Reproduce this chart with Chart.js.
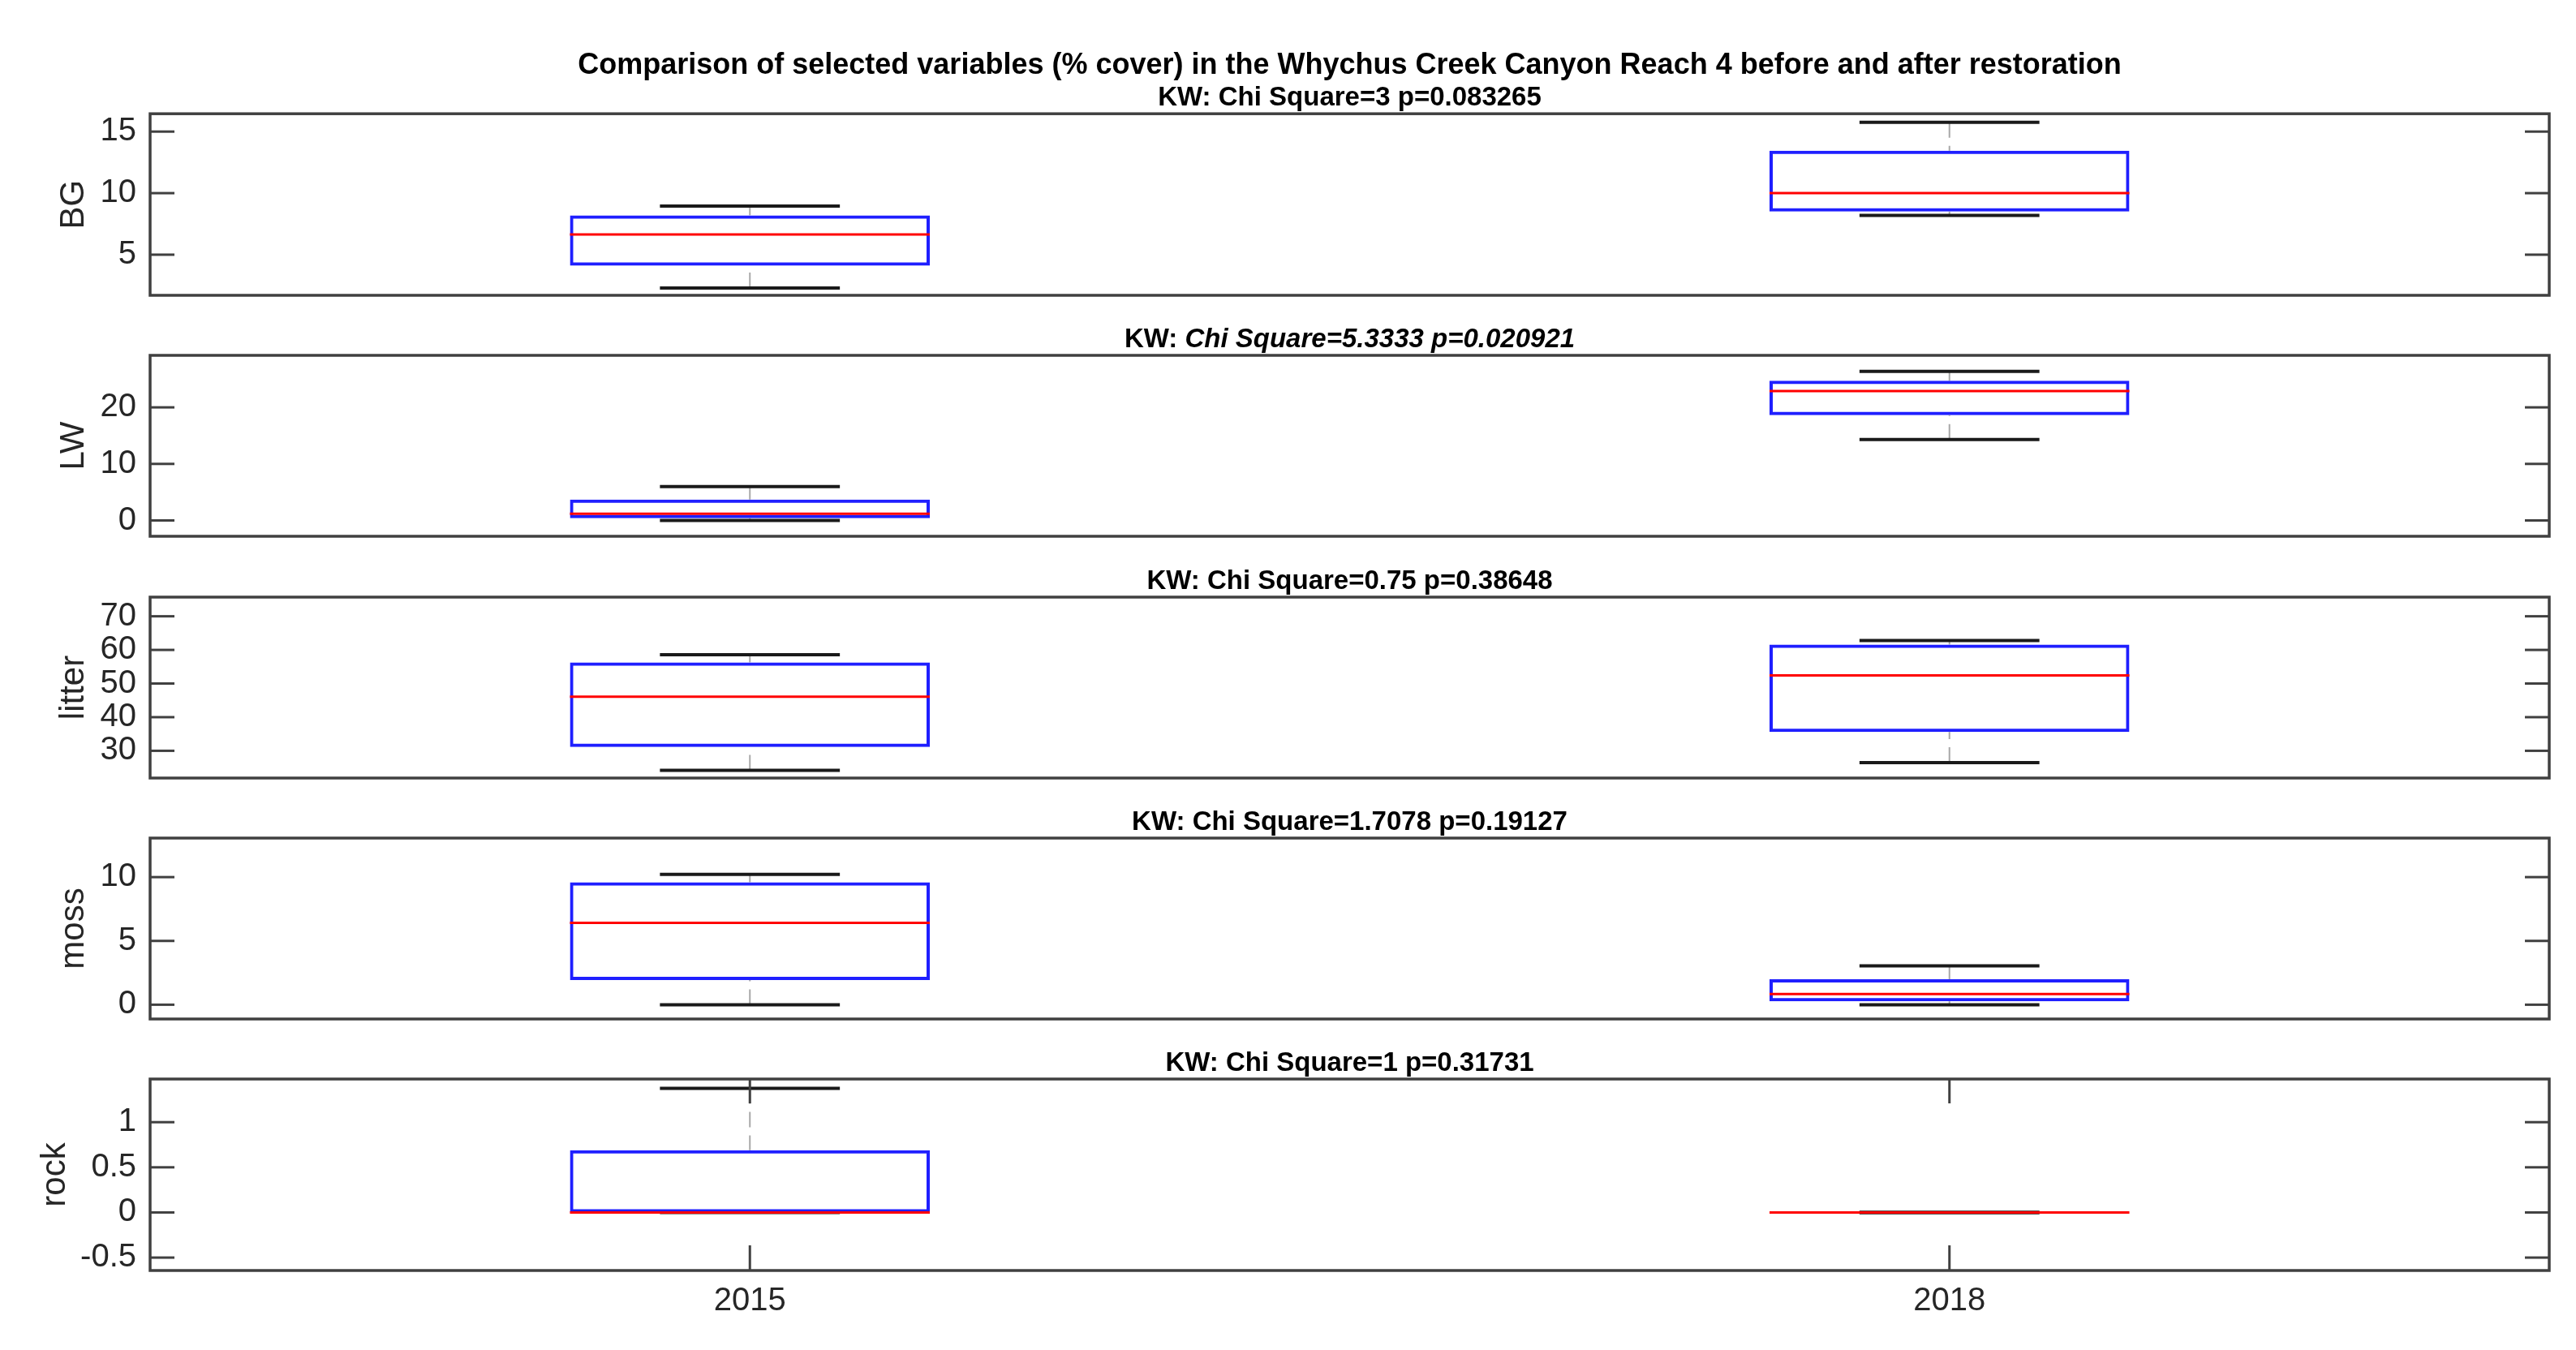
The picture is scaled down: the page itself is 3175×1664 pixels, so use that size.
<!DOCTYPE html>
<html>
<head>
<meta charset="utf-8">
<script src="https://cdn.jsdelivr.net/npm/chart.js@4.4.0/dist/chart.umd.min.js"></script>
<style>
  html, body { margin: 0; padding: 0; background: #fff; }
  #wrap { position: relative; width: 3175px; height: 1664px; overflow: hidden; background: #fff; }
  #wrap canvas { position: absolute; left: 0; }
</style>
</head>
<body>
<div id="wrap">
  <canvas id="p0"></canvas>
  <canvas id="p1"></canvas>
  <canvas id="p2"></canvas>
  <canvas id="p3"></canvas>
  <canvas id="p4"></canvas>
</div>
<script>
// data
const years = ['2015', '2018'];
const mainTitle = 'Comparison of selected variables (% cover) in the Whychus Creek Canyon Reach 4 before and after restoration';

const bgLow = [2.3, 8.2], bgQ1 = [4.1, 8.5], bgMed = [6.65, 10.0], bgQ3 = [8.2, 13.45], bgHigh = [8.95, 15.75];
const lwLow = [0, 14.3], lwQ1 = [0.4, 18.6], lwMed = [1.2, 22.9], lwQ3 = [3.7, 24.7], lwHigh = [6.0, 26.35];
const litterLow = [24.2, 26.5], litterQ1 = [31.1, 35.6], litterMed = [46.1, 52.4], litterQ3 = [56.3, 61.6], litterHigh = [58.6, 62.8];
const mossLow = [0, 0], mossQ1 = [1.93, 0.27], mossMed = [6.42, 0.84], mossQ3 = [9.6, 2.0], mossHigh = [10.22, 3.04];
const rockLow = [0, 0], rockQ1 = [0, 0], rockMed = [0, 0], rockQ3 = [0.69, 0], rockHigh = [1.375, 0];

const bgTicks = [5, 10, 15], bgLimits = [1.7, 16.45];
const lwTicks = [0, 10, 20], lwLimits = [-2.8, 29.2];
const litterTicks = [30, 40, 50, 60, 70], litterLimits = [21.9, 75.7];
const mossTicks = [0, 5, 10], mossLimits = [-1.12, 13.06];
const rockTicks = [-0.5, 0, 0.5, 1], rockLimits = [-0.643, 1.478];

const kwStats = ['Chi Square=3 p=0.083265', 'Chi Square=5.3333 p=0.020921', 'Chi Square=0.75 p=0.38648',
                 'Chi Square=1.7078 p=0.19127', 'Chi Square=1 p=0.31731'];
const kwItalic = [false, true, false, false, false];

const panels = [
  { name: 'BG', low: bgLow, q1: bgQ1, med: bgMed, q3: bgQ3, high: bgHigh, ticks: bgTicks, lim: bgLimits },
  { name: 'LW', low: lwLow, q1: lwQ1, med: lwMed, q3: lwQ3, high: lwHigh, ticks: lwTicks, lim: lwLimits },
  { name: 'litter', low: litterLow, q1: litterQ1, med: litterMed, q3: litterQ3, high: litterHigh, ticks: litterTicks, lim: litterLimits },
  { name: 'moss', low: mossLow, q1: mossQ1, med: mossMed, q3: mossQ3, high: mossHigh, ticks: mossTicks, lim: mossLimits },
  { name: 'rock', low: rockLow, q1: rockQ1, med: rockMed, q3: rockQ3, high: rockHigh, ticks: rockTicks, lim: rockLimits }
];

// layout
const FONT = "'Liberation Sans', Arial, Helvetica, sans-serif";
const plotTops = [140, 438, 736, 1033, 1330];
const plotHeights = [235, 235, 235, 235, 237];
const yTitlePad = [66, 66, 66, 66, 43];
Chart.defaults.font.family = FONT;

function seg(ctx, x1, y1, x2, y2) {
  ctx.beginPath(); ctx.moveTo(x1, y1); ctx.lineTo(x2, y2); ctx.stroke();
}

const boxplot = {
  id: 'boxplot',
  beforeDatasetsDraw(chart, args, o) {
    const {ctx} = chart, x = chart.scales.x, y = chart.scales.y;
    const bars = chart.getDatasetMeta(0).data;
    ctx.save();
    bars.forEach((bar, i) => {
      const cx = x.getPixelForValue(i), half = bar.width / 4;
      ctx.strokeStyle = '#a8a8a8'; ctx.lineWidth = 2; ctx.setLineDash([19, 10]);
      seg(ctx, cx, y.getPixelForValue(o.high[i]), cx, y.getPixelForValue(o.q3[i]));
      seg(ctx, cx, y.getPixelForValue(o.low[i]), cx, y.getPixelForValue(o.q1[i]));
      ctx.setLineDash([]);
      ctx.strokeStyle = '#1a1a1a'; ctx.lineWidth = 4;
      seg(ctx, cx - half, y.getPixelForValue(o.high[i]), cx + half, y.getPixelForValue(o.high[i]));
      seg(ctx, cx - half, y.getPixelForValue(o.low[i]), cx + half, y.getPixelForValue(o.low[i]));
    });
    ctx.restore();
  },
  afterDatasetsDraw(chart, args, o) {
    const {ctx, chartArea: a} = chart, x = chart.scales.x, y = chart.scales.y;
    const bars = chart.getDatasetMeta(0).data;
    ctx.save();
    // medians
    ctx.strokeStyle = '#ff0000'; ctx.lineWidth = 3;
    bars.forEach((bar, i) => {
      const py = y.getPixelForValue(o.med[i]);
      seg(ctx, bar.x - bar.width / 2, py, bar.x + bar.width / 2, py);
    });
    // ticks inside the box
    ctx.strokeStyle = '#404040'; ctx.lineWidth = 3;
    y.ticks.forEach(t => {
      const py = y.getPixelForValue(t.value);
      seg(ctx, a.left, py, a.left + 30, py);
      seg(ctx, a.right, py, a.right - 30, py);
    });
    if (o.xTicks) {
      years.forEach((_, i) => {
        const px = x.getPixelForValue(i);
        seg(ctx, px, a.bottom, px, a.bottom - 31);
        seg(ctx, px, a.top, px, a.top + 30);
      });
    }
    // frame
    ctx.strokeStyle = '#404040'; ctx.lineWidth = 3.5;
    ctx.strokeRect(a.left, a.top, a.right - a.left, a.bottom - a.top);
    // subtitle
    const parts = [['KW: ', 'bold 33px ' + FONT], [o.kw, (o.italic ? 'italic ' : '') + 'bold 33px ' + FONT]];
    let total = 0;
    parts.forEach(p => { ctx.font = p[1]; total += ctx.measureText(p[0]).width; });
    let tx = (a.left + a.right) / 2 - total / 2;
    ctx.fillStyle = '#000'; ctx.textBaseline = 'middle'; ctx.textAlign = 'left';
    parts.forEach(p => { ctx.font = p[1]; ctx.fillText(p[0], tx, a.top - 19); tx += ctx.measureText(p[0]).width; });
    ctx.restore();
  }
};

panels.forEach((p, k) => {
  const first = k === 0, last = k === panels.length - 1;
  const topSpace = first ? 83.2 : 40;
  const bottomSpace = last ? 80 : 30;
  const H = Math.round(topSpace + plotHeights[k] + bottomSpace);
  const canvas = document.getElementById('p' + k);
  canvas.width = 3175; canvas.height = H;
  canvas.style.width = '3175px'; canvas.style.height = H + 'px';

  const chart = new Chart(canvas, {
    type: 'bar',
    data: {
      labels: years,
      datasets: [{
        data: years.map((_, j) => [p.q1[j], p.q3[j]]),
        backgroundColor: 'rgba(0,0,0,0)',
        borderColor: '#1f1fff',
        borderWidth: 4,
        borderSkipped: false,
        barPercentage: 0.3,
        categoryPercentage: 1
      }]
    },
    options: {
      responsive: false,
      animation: false,
      devicePixelRatio: 1,
      events: [],
      layout: { padding: { left: 0, right: 33, top: first ? 0 : 40, bottom: last ? 0 : 30 } },
      plugins: {
        legend: { display: false },
        tooltip: { enabled: false },
        title: {
          display: first,
          text: mainTitle,
          fullSize: false,
          color: '#000',
          font: { family: FONT, size: 36, weight: 'bold' },
          padding: { top: 2, bottom: 38 }
        },
        boxplot: { low: p.low, q1: p.q1, med: p.med, q3: p.q3, high: p.high,
                   kw: kwStats[k], italic: kwItalic[k], xTicks: last }
      },
      scales: {
        x: {
          display: last,
          grid: { display: false, drawTicks: false },
          border: { display: false },
          ticks: { color: '#262626', font: { family: FONT, size: 40 }, padding: 14, maxRotation: 0 },
          afterFit: s => { s.height = last ? 80 : 0; }
        },
        y: {
          min: p.lim[0],
          max: p.lim[1],
          afterBuildTicks: s => { s.ticks = p.ticks.map(v => ({ value: v })); },
          grid: { display: false, drawTicks: false },
          border: { display: false },
          ticks: { color: '#262626', font: { family: FONT, size: 40 }, padding: 17, callback: v => String(v) },
          title: { display: true, text: p.name, color: '#262626', font: { family: FONT, size: 42 },
                   padding: { top: yTitlePad[k], bottom: 0 } },
          afterFit: s => { s.width = 185; }
        }
      }
    },
    plugins: [boxplot]
  });
  canvas.style.top = (plotTops[k] - chart.chartArea.top) + 'px';
});
</script>
</body>
</html>
